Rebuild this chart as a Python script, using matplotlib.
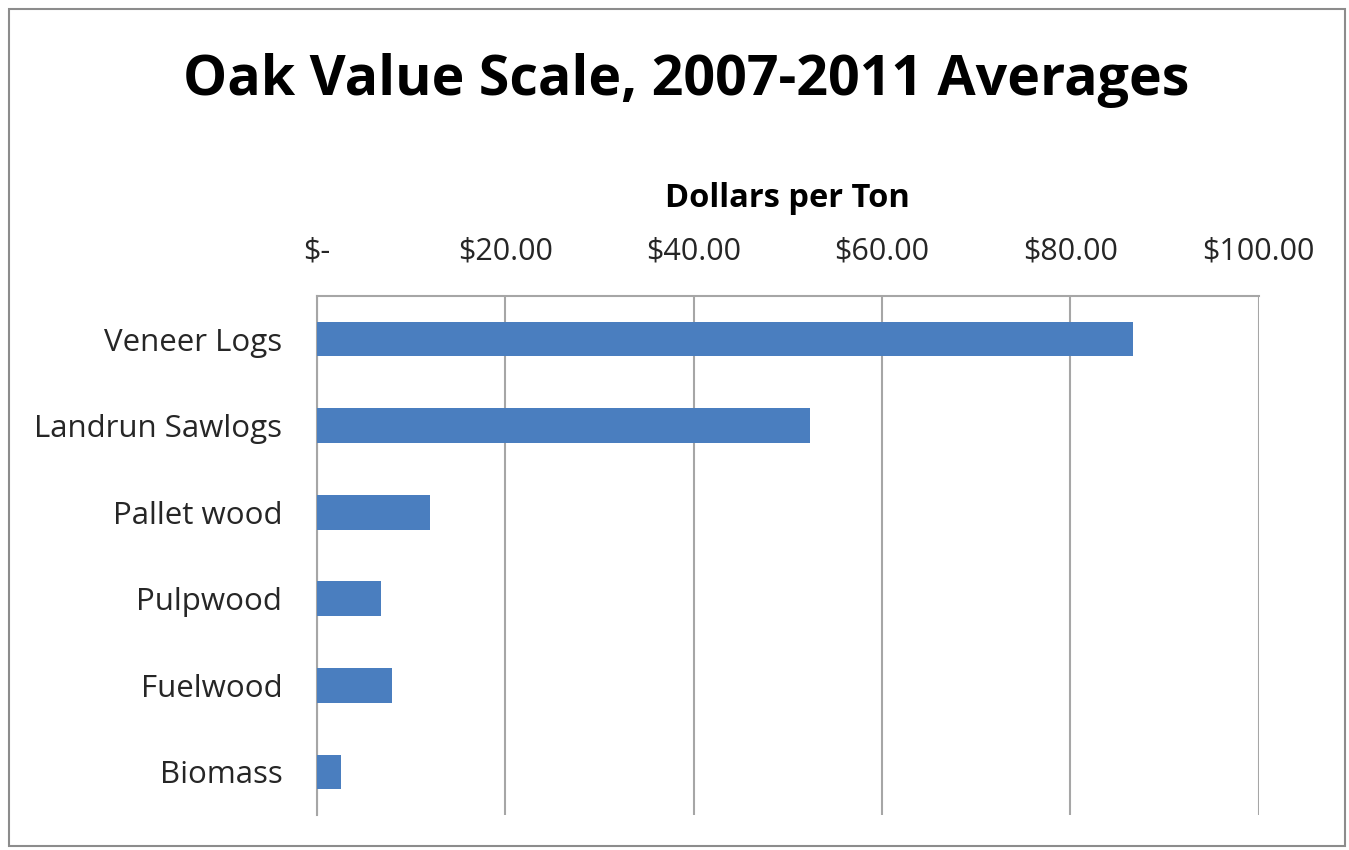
import matplotlib.pyplot as plt
from matplotlib.patches import Rectangle

categories = ["Veneer Logs", "Landrun Sawlogs", "Pallet wood", "Pulpwood", "Fuelwood", "Biomass"]
values = [86.7, 52.4, 12.0, 6.8, 8.0, 2.6]
tick_values = [0, 20, 40, 60, 80, 100]
tick_labels = ["$-", "$20.00", "$40.00", "$60.00", "$80.00", "$100.00"]

plt.rcParams['font.family'] = ['Open Sans', 'DejaVu Sans']

fig = plt.figure(figsize=(13.49, 8.5), dpi=100)
ax = fig.add_axes([0.235, 0.041, 0.698, 0.611])

# outer chart border
fig.patches.append(Rectangle((0.0067, 0.005), 0.99, 0.985, transform=fig.transFigure,
                             fill=False, edgecolor='#8c8c8c', linewidth=1.5))

ypos = list(range(len(categories)))
ax.barh(ypos, values, height=0.4, color='#4a7ebf', zorder=3)
ax.set_ylim(len(categories) - 0.5, -0.5)
ax.set_xlim(0, 100)
ax.set_yticks(ypos)
ax.set_yticklabels(categories, fontsize=22.5, color='#262626')
ax.set_xticks(tick_values)
ax.set_xticklabels(tick_labels, fontsize=22, color='#262626')
ax.xaxis.tick_top()
ax.xaxis.set_label_position('top')
ax.tick_params(axis='both', length=0)
ax.tick_params(axis='x', pad=21)
ax.tick_params(axis='y', pad=25)
ax.grid(axis='x', color='#a6a6a6', linewidth=1.5, zorder=0)
ax.set_xlabel("Dollars per Ton", fontsize=23.5, fontweight='bold', labelpad=21)

for side in ['bottom', 'right']:
    ax.spines[side].set_visible(False)
ax.spines['top'].set_color('#a6a6a6')
ax.spines['left'].set_color('#a6a6a6')
ax.spines['top'].set_linewidth(1.5)
ax.spines['left'].set_linewidth(1.5)

fig.text(0.509, 0.905, "Oak Value Scale, 2007-2011 Averages", ha='center', va='center',
         fontsize=40, fontweight='bold')

fig.savefig("out.png", dpi=100)
